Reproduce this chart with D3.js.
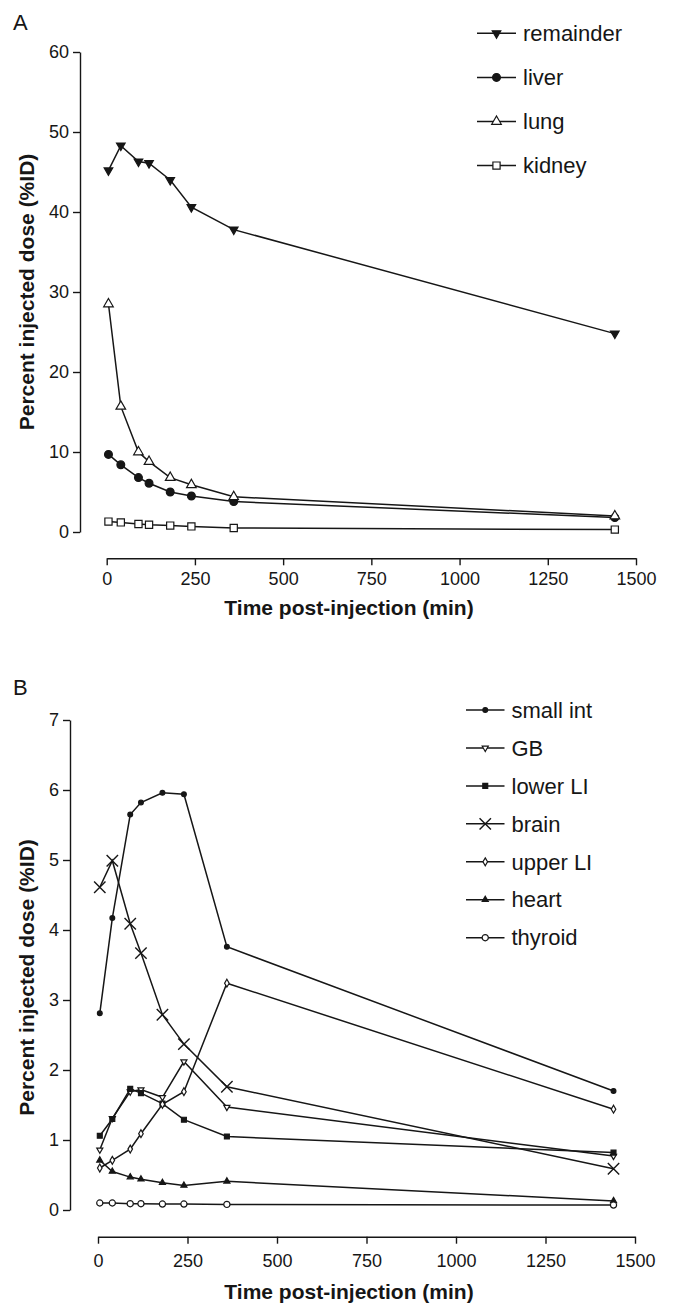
<!DOCTYPE html>
<html>
<head>
<meta charset="utf-8">
<script src="https://cdn.jsdelivr.net/npm/d3@7"></script>
<style>
  body { margin: 0; background: #fff; }
  svg { display: block; font-family: "Liberation Sans", Arial, Helvetica, sans-serif; }
</style>
</head>
<body>
<script>
// sampling times (min)
const times = [5, 40, 90, 120, 180, 240, 360, 1440];
const xTicks = [0, 250, 500, 750, 1000, 1250, 1500];

// panel A (%ID)
const remainder = [45.2, 48.3, 46.3, 46.1, 44.0, 40.6, 37.8, 24.8];
const liver = [9.7, 8.4, 6.8, 6.1, 5.0, 4.5, 3.8, 1.8];
const lung = [28.5, 15.7, 10.0, 8.8, 6.8, 5.9, 4.4, 2.0];
const kidney = [1.3, 1.2, 1.0, 0.9, 0.8, 0.7, 0.5, 0.3];
const yTicksA = [0, 10, 20, 30, 40, 50, 60];

// panel B (%ID)
const smallInt = [2.81, 4.17, 5.65, 5.82, 5.96, 5.94, 3.76, 1.7];
const gb = [0.86, 1.31, 1.69, 1.72, 1.61, 2.12, 1.47, 0.77];
const lowerLI = [1.06, 1.3, 1.73, 1.67, 1.52, 1.29, 1.05, 0.82];
const brain = [4.61, 4.99, 4.09, 3.67, 2.79, 2.37, 1.76, 0.59];
const upperLI = [0.6, 0.71, 0.87, 1.09, 1.51, 1.69, 3.24, 1.44];
const heart = [0.71, 0.55, 0.47, 0.44, 0.39, 0.35, 0.41, 0.13];
const thyroid = [0.1, 0.1, 0.09, 0.09, 0.085, 0.085, 0.08, 0.07];
const yTicksB = [0, 1, 2, 3, 4, 5, 6, 7];

const ink = "#161616";

// X shaped marker (brain)
const symbolCrossX = {
  draw(ctx, size) {
    const r = Math.sqrt(size) / 2;
    ctx.moveTo(-r, -r); ctx.lineTo(r, r);
    ctx.moveTo(r, -r); ctx.lineTo(-r, r);
  }
};

const svg = d3.select("body").append("svg")
  .attr("width", 673)
  .attr("height", 1306);

function drawPanel(p) {
  const x = d3.scaleLinear().domain([0, 1500]).range(p.xRange);
  const y = d3.scaleLinear().domain(p.yDomain).range(p.yRange);
  const g = svg.append("g");

  // panel letter
  g.append("text")
    .attr("x", 13).attr("y", p.letterY)
    .attr("font-size", 22)
    .attr("fill", ink)
    .text(p.letter);

  // axes
  const yAxis = g.append("g")
    .attr("transform", `translate(${p.yAxisX},0)`)
    .call(d3.axisLeft(y).tickValues(p.yTicks).tickFormat(d3.format("d"))
      .tickSize(7).tickSizeOuter(0).tickPadding(4));
  const xAxis = g.append("g")
    .attr("transform", `translate(0,${p.xAxisY})`)
    .call(d3.axisBottom(x).tickValues(xTicks).tickFormat(d3.format("d"))
      .tickSize(7).tickSizeOuter(0).tickPadding(p.xPad));
  [xAxis, yAxis].forEach(a => {
    a.select(".domain").attr("stroke", ink).attr("stroke-width", 1.4);
    a.selectAll(".tick line").attr("stroke", ink).attr("stroke-width", 1.4);
    a.selectAll(".tick text")
      .attr("font-size", 18)
      .attr("fill", ink)
      .attr("font-family", "'Liberation Sans', Arial, sans-serif");
  });

  // axis titles
  g.append("text")
    .attr("x", 349).attr("y", p.xTitleY)
    .attr("text-anchor", "middle")
    .attr("font-size", 21).attr("font-weight", "bold")
    .attr("fill", ink)
    .text("Time post-injection (min)");
  g.append("text")
    .attr("transform", `translate(33.5,${p.yTitleY}) rotate(-90)`)
    .attr("text-anchor", "middle")
    .attr("font-size", 21).attr("font-weight", "bold")
    .attr("fill", ink)
    .text("Percent injected dose (%ID)");

  const line = d3.line()
    .x((d, i) => x(times[i]))
    .y(d => y(d));

  const sym = s => d3.symbol().type(s.type).size(s.size);

  // series
  p.series.forEach(s => {
    g.append("path")
      .datum(s.values)
      .attr("d", line)
      .attr("fill", "none")
      .attr("stroke", ink)
      .attr("stroke-width", 1.5);
  });
  p.series.forEach(s => {
    g.selectAll(null)
      .data(s.values)
      .enter()
      .append("path")
      .attr("d", sym(s))
      .attr("transform", (d, i) => `translate(${x(times[i])},${y(d)}) rotate(${s.rotate || 0})`)
      .attr("fill", s.fill)
      .attr("stroke", ink)
      .attr("stroke-width", s.sw || 1.2);
  });

  // legend
  const lg = g.append("g");
  p.series.forEach((s, i) => {
    const ly = p.legend.y0 + i * p.legend.dy;
    lg.append("line")
      .attr("x1", p.legend.x1).attr("x2", p.legend.x2)
      .attr("y1", ly).attr("y2", ly)
      .attr("stroke", ink).attr("stroke-width", 1.5);
    const mx = (p.legend.x1 + p.legend.x2) / 2;
    lg.append("path")
      .attr("d", sym(s))
      .attr("transform", `translate(${mx},${ly}) rotate(${s.rotate || 0})`)
      .attr("fill", s.fill)
      .attr("stroke", ink)
      .attr("stroke-width", s.sw || 1.2);
    lg.append("text")
      .attr("x", p.legend.x2 + 7).attr("y", ly)
      .attr("dy", "0.35em")
      .attr("font-size", 22)
      .attr("fill", ink)
      .text(s.name);
  });
}

drawPanel({
  letter: "A", letterY: 30,
  xRange: [106.7, 636], yDomain: [0, 60], yRange: [532, 52],
  yTicks: yTicksA, yAxisX: 80, xAxisY: 558.3, xPad: 7.3,
  xTitleY: 615, yTitleY: 292,
  legend: { x1: 477, x2: 516, y0: 33.3, dy: 44.1 },
  series: [
    { name: "remainder", values: remainder, type: d3.symbolTriangle, size: 32, fill: ink, rotate: 180 },
    { name: "liver", values: liver, type: d3.symbolCircle, size: 48, fill: ink },
    { name: "lung", values: lung, type: d3.symbolTriangle, size: 40, fill: "#fff" },
    { name: "kidney", values: kidney, type: d3.symbolSquare, size: 52, fill: "#fff" }
  ]
});

drawPanel({
  letter: "B", letterY: 695,
  xRange: [98, 635], yDomain: [0, 7], yRange: [1210, 720],
  yTicks: yTicksB, yAxisX: 70, xAxisY: 1236.7, xPad: 11,
  xTitleY: 1299, yTitleY: 977.5,
  legend: { x1: 466, x2: 504.5, y0: 710, dy: 37.95 },
  series: [
    { name: "small int", values: smallInt, type: d3.symbolCircle, size: 18, fill: ink },
    { name: "GB", values: gb, type: d3.symbolTriangle, size: 16, fill: "#fff", rotate: 180 },
    { name: "lower LI", values: lowerLI, type: d3.symbolSquare, size: 24, fill: ink },
    { name: "brain", values: brain, type: symbolCrossX, size: 130, fill: "none", sw: 1.4 },
    { name: "upper LI", values: upperLI, type: d3.symbolDiamond, size: 18, fill: "#fff" },
    { name: "heart", values: heart, type: d3.symbolTriangle, size: 16, fill: ink },
    { name: "thyroid", values: thyroid, type: d3.symbolCircle, size: 30, fill: "#fff" }
  ]
});
</script>
</body>
</html>
